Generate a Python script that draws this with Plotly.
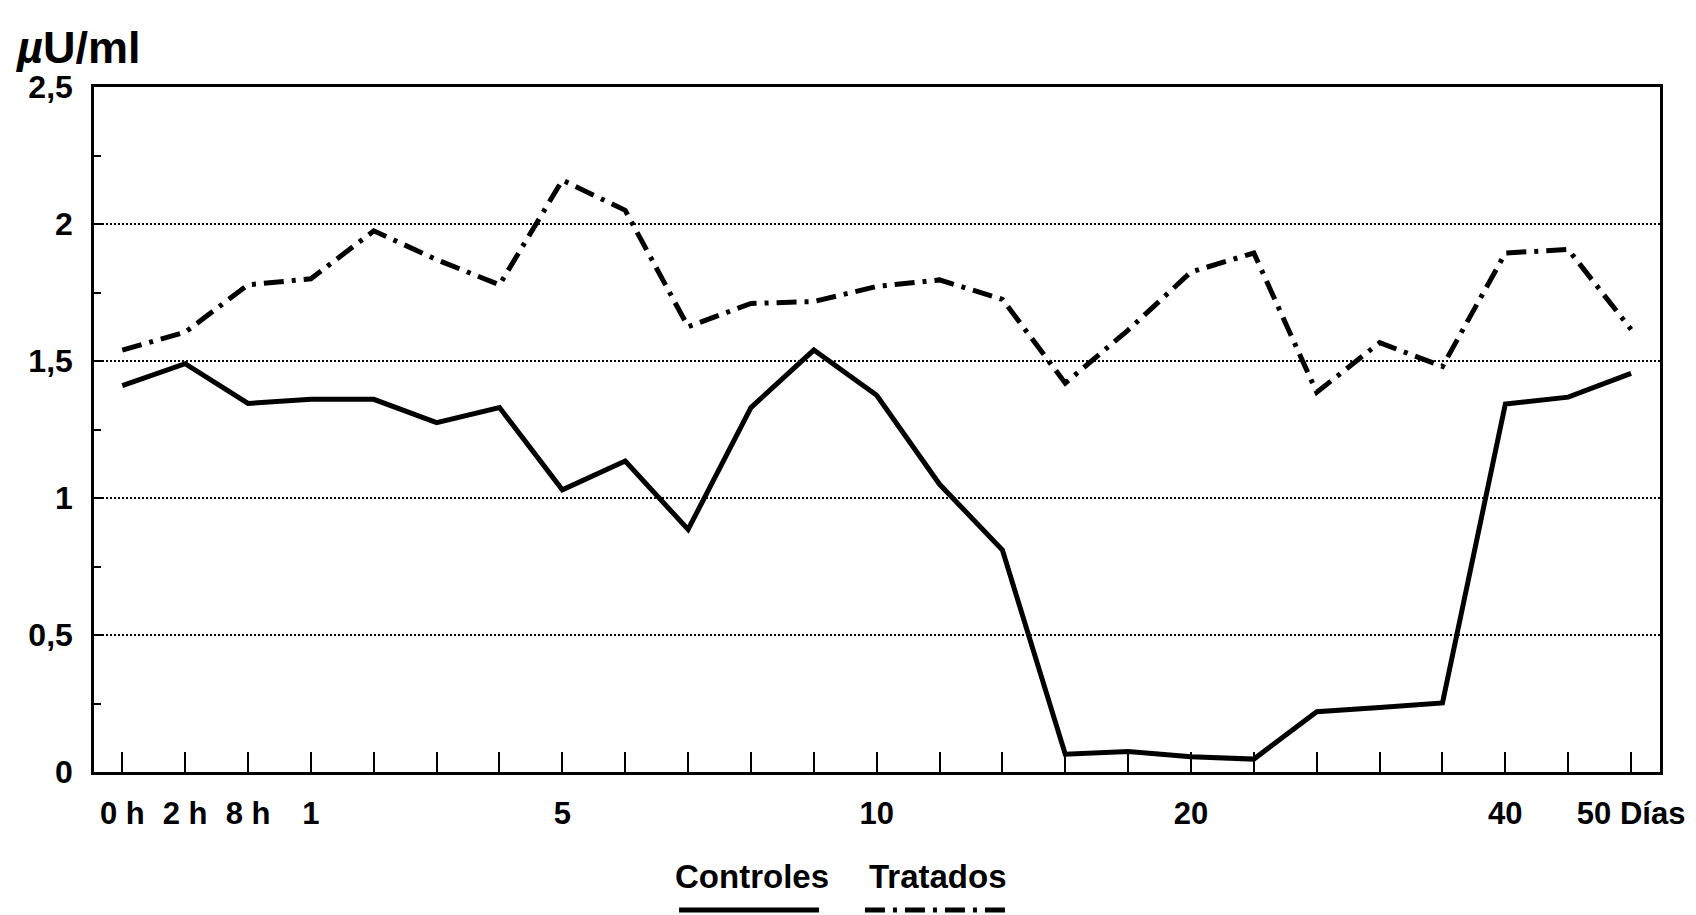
import plotly.graph_objects as go

# Sampling times (hours on day 0, then days) and insulin levels in µU/ml
time_points = ["0 h", "2 h", "8 h", "1", "2", "3", "4", "5", "6", "7", "8", "9",
               "10", "12", "14", "16", "18", "20", "24", "28", "32", "36", "40",
               "45", "50"]
tick_labels = {"0 h": "0 h", "2 h": "2 h", "8 h": "8 h", "1": "1", "5": "5",
               "10": "10", "20": "20", "40": "40", "50": "50 Días"}

controles = [1.41, 1.49, 1.345, 1.36, 1.36, 1.275, 1.33, 1.03, 1.135, 0.885,
             1.33, 1.54, 1.375, 1.05, 0.81, 0.065, 0.075, 0.056, 0.047, 0.22,
             0.235, 0.252, 1.343, 1.368, 1.455]
tratados = [1.54, 1.605, 1.778, 1.80, 1.975, 1.87, 1.778, 2.16, 2.05, 1.625,
            1.71, 1.717, 1.772, 1.796, 1.725, 1.419, 1.613, 1.825, 1.894,
            1.386, 1.567, 1.48, 1.894, 1.907, 1.615]

y_ticks = [0, 0.5, 1, 1.5, 2, 2.5]
y_tick_text = ["0", "0,5", "1", "1,5", "2", "2,5"]

x = list(range(len(time_points)))
FONT = "Liberation Sans, Arial, sans-serif"
DASHDOT = "20px,8px,4px,8px"

fig = go.Figure()
fig.add_trace(go.Scatter(x=x, y=controles, mode="lines", name="Controles",
                         line=dict(color="black", width=5), showlegend=False))
fig.add_trace(go.Scatter(x=x, y=tratados, mode="lines", name="Tratados",
                         line=dict(color="black", width=5, dash=DASHDOT),
                         showlegend=False))

fig.update_layout(
    width=1696, height=915,
    margin=dict(l=94, r=36, t=87, b=143),
    paper_bgcolor="white", plot_bgcolor="white",
    font=dict(family=FONT, color="black"),
)

fig.update_xaxes(
    range=[-0.45, 24.46],
    tickmode="array", tickvals=x,
    ticktext=[f"<b>{tick_labels.get(t, '')}</b>" for t in time_points],
    tickfont=dict(size=31, family=FONT),
    ticks="inside", ticklen=20, tickwidth=2, tickcolor="black",
    ticklabelstandoff=12,
    showline=True, linecolor="black", linewidth=2.5, mirror=True,
    showgrid=False, zeroline=False,
)

fig.update_yaxes(
    range=[0, 2.5],
    tickmode="array", tickvals=y_ticks,
    ticktext=[f"<b>{t}</b>" for t in y_tick_text],
    tickfont=dict(size=32, family=FONT),
    ticks="inside", ticklen=10, tickwidth=2, tickcolor="black",
    ticklabelstandoff=12,
    minor=dict(dtick=0.25, ticks="inside", ticklen=7, tickwidth=2,
               tickcolor="black", showgrid=False),
    showline=True, linecolor="black", linewidth=2.5, mirror=True,
    showgrid=True, gridcolor="black", gridwidth=1.5, griddash="2px,2px",
    zeroline=False,
)

# Unit label above the y axis
fig.add_annotation(xref="paper", yref="paper", x=-0.052, y=1.058,
                   xanchor="left", yanchor="middle", showarrow=False,
                   text="<b><i>µ</i>U/ml</b>", font=dict(size=45, family=FONT))

# Legend: names with a line sample underneath each
for name, cx, x0, x1, dash in [("Controles", 0.420, 0.3736, 0.463, "solid"),
                               ("Tratados", 0.539, 0.4923, 0.5843, DASHDOT)]:
    fig.add_annotation(xref="paper", yref="paper", x=cx, y=-0.153,
                       xanchor="center", yanchor="middle", showarrow=False,
                       text=f"<b>{name}</b>", font=dict(size=33, family=FONT))
    fig.add_shape(type="line", xref="paper", yref="paper",
                  x0=x0, x1=x1, y0=-0.2015, y1=-0.2015,
                  line=dict(color="black", width=5, dash=dash))

fig.write_html("out.html")
